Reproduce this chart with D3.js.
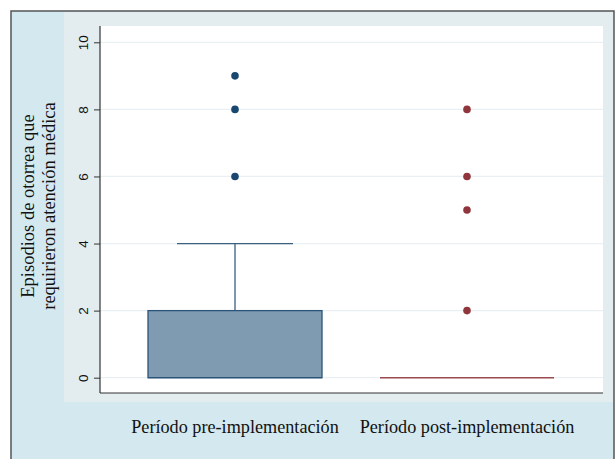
<!DOCTYPE html>
<html><head><meta charset="utf-8">
<script src="https://cdn.jsdelivr.net/npm/d3@7"></script>
<style>body{margin:0;background:#fff}svg{display:block}</style>
</head><body>
<svg id="c" width="616" height="459"></svg>
<script>
const categories = ["Período pre-implementación", "Período post-implementación"];
const boxQ1 = [0, 0];
const boxMedian = [0, 0];
const boxQ3 = [2, 0];
const whiskerLow = [0, 0];
const whiskerHigh = [4, 0];
const outliers = [[9, 8, 6], [8, 6, 5, 2]];
const yTicks = [0, 2, 4, 6, 8, 10];
const yTitle = ["Episodios de otorrea que", "requirieron atención médica"];

const colors = ["#1a476f", "#90353b"];
const fills = ["#7f9bb2", "#90353b"];

(function () {
const SERIF = '"Liberation Serif"';
const SANS = '"Liberation Sans"';
const svg = d3.select("#c");
const W = 616, H = 459;
svg.append("rect").attr("x", 11).attr("y", 11).attr("width", W - 11 - 2).attr("height", H).attr("fill", "#d3e8ef").attr("stroke", "#555").attr("stroke-width", 1.5);
svg.append("rect").attr("x", 64).attr("y", 12).attr("width", 613 - 64).attr("height", 402 - 12).attr("fill", "#e3edf0");

const pL = 100, pR = 603, pT = 26, pB = 393;
svg.append("rect").attr("x", pL).attr("y", pT).attr("width", pR - pL).attr("height", pB - pT).attr("fill", "#fff");

const y = d3.scaleLinear().domain([0, 10]).range([377.7, 42.3]);
const x = d3.scaleBand().domain(categories).range([119, 583]).padding(0);
const xc = d => x(d) + x.bandwidth() / 2;

svg.append("g").selectAll("line").data(yTicks).join("line")
  .attr("x1", pL).attr("x2", pR).attr("y1", d => y(d)).attr("y2", d => y(d))
  .attr("stroke", "#e8f0f3").attr("stroke-width", 1.2);

const ya = svg.append("g").attr("transform", `translate(${pL},0)`)
  .call(d3.axisLeft(y).tickValues(yTicks).tickSize(6).tickPadding(4));
ya.attr("font-family", SANS);
ya.select(".domain").attr("stroke", "#333").attr("stroke-width", 1.2).attr("d", `M0,${pT}V${pB}`);
ya.selectAll(".tick line").attr("stroke", "#333");
ya.selectAll(".tick text").attr("transform", "rotate(-90)").attr("x", 0).attr("y", -17)
  .attr("dy", "0.35em").attr("text-anchor", "middle").attr("font-family", SANS).attr("font-size", 13.5).attr("fill", "#111");

svg.append("line").attr("x1", pL).attr("x2", pR).attr("y1", pB).attr("y2", pB).attr("stroke", "#333").attr("stroke-width", 1.2);

const boxW = 174, capW = 116;
categories.forEach((c, i) => {
  const cx = xc(c);
  const g = svg.append("g");
  if (whiskerHigh[i] > boxQ3[i]) {
    g.append("line").attr("x1", cx).attr("x2", cx).attr("y1", y(boxQ3[i])).attr("y2", y(whiskerHigh[i])).attr("stroke", "#3b5f7e").attr("stroke-width", 1.3);
    g.append("line").attr("x1", cx - capW / 2).attr("x2", cx + capW / 2).attr("y1", y(whiskerHigh[i])).attr("y2", y(whiskerHigh[i])).attr("stroke", "#3b5f7e").attr("stroke-width", 1.3);
  }
  if (boxQ3[i] > boxQ1[i]) {
    g.append("rect").attr("x", cx - boxW / 2).attr("y", y(boxQ3[i])).attr("width", boxW).attr("height", y(boxQ1[i]) - y(boxQ3[i]))
      .attr("fill", fills[i]).attr("stroke", "#2c5478").attr("stroke-width", 1.3);
    g.append("line").attr("x1", cx - boxW / 2).attr("x2", cx + boxW / 2).attr("y1", y(boxMedian[i])).attr("y2", y(boxMedian[i])).attr("stroke", "#2c5478").attr("stroke-width", 1.3);
  } else {
    g.append("line").attr("x1", cx - boxW / 2).attr("x2", cx + boxW / 2).attr("y1", y(boxMedian[i])).attr("y2", y(boxMedian[i])).attr("stroke", "#9b4a50").attr("stroke-width", 1.5);
  }
  g.selectAll("circle").data(outliers[i]).join("circle").attr("cx", cx).attr("cy", d => y(d)).attr("r", 3.8).attr("fill", colors[i]);
  svg.append("text").attr("x", cx).attr("y", 433).attr("text-anchor", "middle").attr("font-family", SERIF)
    .attr("font-size", 18.2).attr("fill", "#111").text(c);
});

yTitle.forEach((t, i) => {
  svg.append("text").attr("transform", `translate(${34 + i * 21},206) rotate(-90)`).attr("text-anchor", "middle").attr("font-family", SERIF)
    .attr("font-size", 18.5).attr("fill", "#111").text(t);
});
})();
</script>
</body></html>
